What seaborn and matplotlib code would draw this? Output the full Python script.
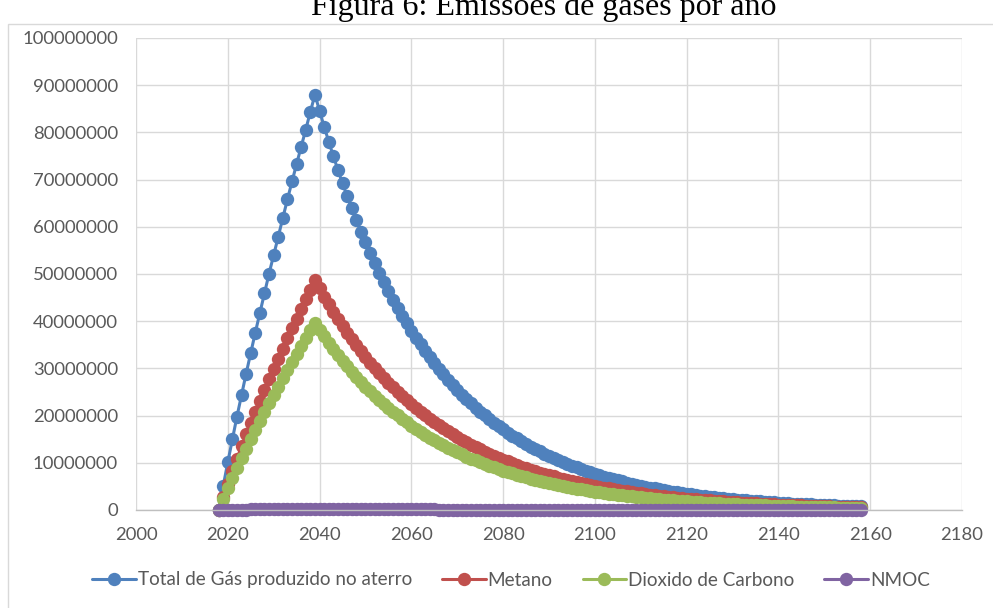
import matplotlib
matplotlib.use("Agg")
import matplotlib.pyplot as plt
from matplotlib.patches import Rectangle
import seaborn as sns
import numpy as np
import pandas as pd

# ---------------- data (values in millions) ----------------
years = list(range(2018, 2159))

total = [
    0.0, 5.1, 10.1, 15.0, 19.8, 24.4, 28.9, 33.3, 37.6, 41.8, 46.0, 50.1, 54.0, 57.9, 61.9, 65.8,
    69.6, 73.3, 77.0, 80.6, 84.4, 88.0,
    84.55, 81.23, 78.05, 74.99, 72.05, 69.22, 66.51, 63.90, 61.40, 58.99,
    56.68, 54.46, 52.32, 50.27, 48.30, 46.41, 44.59, 42.84, 41.16, 39.55,
    38.00, 36.51, 35.08, 33.70, 32.38, 31.11, 29.89, 28.72, 27.59, 26.51,
    25.47, 24.47, 23.51, 22.59, 21.71, 20.86, 20.04, 19.25, 18.50, 17.77,
    17.08, 16.41, 15.76, 15.15, 14.55, 13.98, 13.43, 12.91, 12.40, 11.92,
    11.45, 11.00, 10.57, 10.15, 9.76, 9.37, 9.01, 8.65, 8.31, 7.99,
    7.67, 7.37, 7.08, 6.81, 6.54, 6.28, 6.04, 5.80, 5.57, 5.35,
    5.14, 4.94, 4.75, 4.56, 4.38, 4.21, 4.05, 3.89, 3.73, 3.59,
    3.45, 3.31, 3.18, 3.06, 2.94, 2.82, 2.71, 2.61, 2.50, 2.41,
    2.31, 2.22, 2.13, 2.05, 1.97, 1.89, 1.82, 1.75, 1.68, 1.61,
    1.55, 1.49, 1.43, 1.37, 1.32, 1.27, 1.22, 1.17, 1.12, 1.08,
    1.04, 1.00, 0.96, 0.92, 0.88, 0.85, 0.82, 0.78, 0.75,
]

metano = [
    0.0, 2.8, 5.6, 8.3, 10.9, 13.5, 16.0, 18.4, 20.8, 23.1, 25.4, 27.7, 29.9, 32.0, 34.2, 36.4,
    38.5, 40.5, 42.6, 44.6, 46.7, 48.7,
    46.93, 45.23, 43.58, 42.00, 40.47, 39.00, 37.59, 36.22, 34.91, 33.64,
    32.42, 31.24, 30.10, 29.01, 27.96, 26.94, 25.96, 25.02, 24.11, 23.23,
    22.39, 21.58, 20.79, 20.04, 19.31, 18.61, 17.93, 17.28, 16.65, 16.05,
    15.46, 14.90, 14.36, 13.84, 13.33, 12.85, 12.38, 11.93, 11.50, 11.08,
    10.68, 10.29, 9.92, 9.56, 9.21, 8.87, 8.55, 8.24, 7.94, 7.65,
    7.37, 7.11, 6.85, 6.60, 6.36, 6.13, 5.91, 5.69, 5.49, 5.29,
    5.10, 4.91, 4.73, 4.56, 4.40, 4.24, 4.08, 3.93, 3.79, 3.65,
    3.52, 3.39, 3.27, 3.15, 3.04, 2.93, 2.82, 2.72, 2.62, 2.52,
    2.43, 2.34, 2.26, 2.18, 2.10, 2.02, 1.95, 1.88, 1.81, 1.74,
    1.68, 1.62, 1.56, 1.50, 1.45, 1.39, 1.34, 1.29, 1.25, 1.20,
    1.16, 1.12, 1.08, 1.04, 1.00, 0.96, 0.93, 0.89, 0.86, 0.83,
    0.80, 0.77, 0.74, 0.72, 0.69, 0.67, 0.64, 0.62, 0.60,
]

dioxido = [
    0.0, 2.3, 4.6, 6.8, 8.9, 11.0, 13.0, 15.0, 17.0, 18.9, 20.7, 22.6, 24.4, 26.1, 27.9, 29.7,
    31.4, 33.1, 34.7, 36.4, 38.1, 39.7,
    38.22, 36.79, 35.42, 34.10, 32.83, 31.60, 30.42, 29.29, 28.20, 27.15,
    26.13, 25.16, 24.22, 23.32, 22.45, 21.61, 20.80, 20.03, 19.28, 18.56,
    17.87, 17.20, 16.56, 15.94, 15.35, 14.78, 14.23, 13.70, 13.18, 12.69,
    12.22, 11.76, 11.32, 10.90, 10.50, 10.10, 9.73, 9.36, 9.01, 8.68,
    8.35, 8.04, 7.74, 7.45, 7.18, 6.91, 6.65, 6.40, 6.16, 5.93,
    5.71, 5.50, 5.30, 5.10, 4.91, 4.73, 4.55, 4.38, 4.22, 4.06,
    3.91, 3.76, 3.62, 3.49, 3.36, 3.23, 3.11, 2.99, 2.88, 2.78,
    2.67, 2.57, 2.48, 2.38, 2.29, 2.21, 2.13, 2.05, 1.97, 1.90,
    1.83, 1.76, 1.69, 1.63, 1.57, 1.51, 1.45, 1.40, 1.35, 1.30,
    1.25, 1.20, 1.16, 1.11, 1.07, 1.03, 0.99, 0.96, 0.92, 0.89,
    0.85, 0.82, 0.79, 0.76, 0.73, 0.71, 0.68, 0.66, 0.63, 0.61,
    0.59, 0.56, 0.54, 0.52, 0.50, 0.48, 0.47, 0.45, 0.43,
]

nmoc = [
    0.00, 0.02, 0.04, 0.05, 0.07, 0.09, 0.10, 0.12, 0.13, 0.15, 0.16, 0.18, 0.19, 0.20, 0.22, 0.23,
    0.24, 0.26, 0.27, 0.28, 0.30, 0.31,
    0.30, 0.28, 0.27, 0.26, 0.25, 0.24, 0.23, 0.22, 0.21, 0.21,
    0.20, 0.19, 0.18, 0.18, 0.17, 0.16, 0.16, 0.15, 0.14, 0.14,
    0.13, 0.13, 0.12, 0.12, 0.11, 0.11, 0.10, 0.10, 0.10, 0.09,
    0.09, 0.09, 0.08, 0.08, 0.08, 0.07, 0.07, 0.07, 0.06, 0.06,
    0.06, 0.06, 0.06, 0.05, 0.05, 0.05, 0.05, 0.05, 0.04, 0.04,
    0.04, 0.04, 0.04, 0.04, 0.03, 0.03, 0.03, 0.03, 0.03, 0.03,
    0.03, 0.03, 0.02, 0.02, 0.02, 0.02, 0.02, 0.02, 0.02, 0.02,
    0.02, 0.02, 0.02, 0.02, 0.02, 0.01, 0.01, 0.01, 0.01, 0.01,
    0.01, 0.01, 0.01, 0.01, 0.01, 0.01, 0.01, 0.01, 0.01, 0.01,
    0.01, 0.01, 0.01, 0.01, 0.01, 0.01, 0.01, 0.01, 0.01, 0.01,
    0.01, 0.01, 0.01, 0.01, 0.01, 0.01, 0.01, 0.01, 0.01, 0.01,
    0.01, 0.01, 0.01, 0.01, 0.01, 0.01, 0.01, 0.01, 0.01,
]

series_names = ["Total de Gás produzido no aterro", "Metano", "Dioxido de Carbono", "NMOC"]
series_values = [total, metano, dioxido, nmoc]
colors = ["#4f81bd", "#c0504d", "#9bbb59", "#8064a2"]

x_ticks = list(range(2000, 2181, 20))
y_ticks = list(range(0, 100000001, 10000000))
title = "Figura 6: Emissões de gases por ano"

UNIT = 1e6

# ---------------- plotting ----------------
sns.set_theme(style="white")
plt.rcParams["font.family"] = ["Lato", "DejaVu Sans"]

W, H = 993, 608
fig = plt.figure(figsize=(W / 100, H / 100), dpi=100)
ax = fig.add_axes([136 / W, 1 - 510 / H, (962 - 136) / W, (510 - 38) / H])

for name, vals, col in zip(series_names, series_values, colors):
    df = pd.DataFrame({"ano": years, "valor": np.array(vals) * UNIT})
    sns.lineplot(data=df, x="ano", y="valor", ax=ax, color=col, label=name,
                 marker="o", markersize=9.6, markeredgewidth=0, linewidth=2.2,
                 clip_on=False)

ax.set_xlim(2000, 2180)
ax.set_ylim(0, 100000000)
ax.set_xticks(x_ticks)
ax.set_yticks(y_ticks)
ax.set_xticklabels([str(v) for v in x_ticks])
ax.set_yticklabels([str(v) for v in y_ticks])
ax.set_xlabel("")
ax.set_ylabel("")
ax.grid(True, color="#d9d9d9", linewidth=1.0)
ax.set_axisbelow(True)
for s in ["top", "right", "left"]:
    ax.spines[s].set_visible(False)
ax.spines["bottom"].set_color("#bfbfbf")
ax.spines["bottom"].set_linewidth(1.0)
ax.tick_params(axis="both", length=0, labelsize=13.3, labelcolor="#595959")
ax.tick_params(axis="x", pad=12)
ax.tick_params(axis="y", pad=13)

leg = ax.legend(loc="center", bbox_to_anchor=(511 / W, 1 - 580 / H),
                bbox_transform=fig.transFigure, ncol=4, frameon=False,
                fontsize=13.6, handlelength=2.3, handletextpad=0.1,
                columnspacing=1.6, borderaxespad=0)
for t in leg.get_texts():
    t.set_color("#595959")

# chart-area border (partly cut off in the reference)
fig.patches.append(Rectangle((8 / W, -0.05), 1.2, 1 - 24 / H + 0.05,
                             transform=fig.transFigure, fill=False,
                             edgecolor="#d9d9d9", linewidth=1.0))

fig.text(544 / W, 1 - 15 / H, title, ha="center", va="baseline",
         fontsize=23, family=["Liberation Serif", "DejaVu Serif"], color="black")

fig.savefig("out.png", dpi=100)
